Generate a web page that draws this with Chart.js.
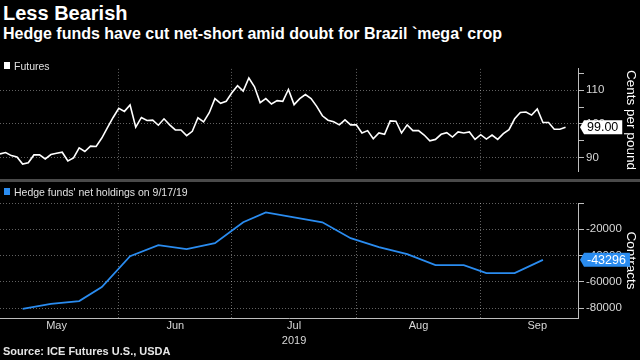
<!DOCTYPE html>
<html>
<head>
<meta charset="utf-8">
<script src="https://cdn.jsdelivr.net/npm/chart.js@4.4.0/dist/chart.umd.min.js"></script>
<style>
  body { margin: 0; width: 640px; height: 360px; background: #000; overflow: hidden; position: relative;
         font-family: "Liberation Sans", Arial, sans-serif; color: #fff; }
  .txt { position: absolute; white-space: nowrap; z-index: 2; }
  #title { left: 3px; top: 1px; font-size: 20px; font-weight: bold; line-height: 24px; }
  #subtitle { left: 3px; top: 25px; font-size: 16px; font-weight: bold; line-height: 18px; }
  .legend { font-size: 10.5px; line-height: 12px; color: #e0e0e0; padding-left: 10px; }
  .legend i { position: absolute; left: 0; top: 2px; width: 6px; height: 7px; }
  #legTop { left: 4px; top: 60px; }
  #legBottom { left: 4px; top: 186px; }
  #source { left: 3px; top: 345px; font-size: 11px; font-weight: bold; line-height: 13px; color: #e6e6e6; }
  #sep { position: absolute; left: 0; top: 179px; width: 640px; height: 3px; background: #4a4a4a; }
  canvas { position: absolute; left: 0; }
  #priceCanvas { top: 60px; }
  #holdCanvas { top: 182px; }
</style>
</head>
<body>
<div class="txt" id="title">Less Bearish</div>
<div class="txt" id="subtitle">Hedge funds have cut net-short amid doubt for Brazil `mega' crop</div>
<div class="txt legend" id="legTop"><i style="background:#fff"></i>Futures</div>
<div id="sep"></div>
<div class="txt legend" id="legBottom"><i style="background:#2a8cf0"></i>Hedge funds' net holdings on 9/17/19</div>
<div class="txt" id="source">Source: ICE Futures U.S., USDA</div>
<canvas id="priceCanvas" width="640" height="120"></canvas>
<canvas id="holdCanvas" width="640" height="178"></canvas>
<script>
// x values are trading-day numbers counted from May 1, 2019 (= 0)
const futuresStart = 1;
const futures = [
  91.1, 91.5, 90.6, 90.2, 88.1, 88.5, 90.8, 90.8, 89.6, 90.9,
  91.3, 91.6, 89.0, 89.9, 92.9, 91.8, 93.4, 93.3, 95.8, 98.9,
  101.9, 104.6, 103.7, 105.6, 99.0, 101.9, 101.0, 101.1, 99.6, 101.5,
  99.7, 98.2, 98.2, 96.5, 97.8, 101.8, 100.6, 103.3, 107.5, 106.1,
  106.7, 109.2, 111.3, 109.7, 113.6, 111.0, 106.3, 107.5, 105.9, 106.9,
  106.7, 110.2, 105.7, 107.5, 108.7, 107.5, 105.2, 102.4, 101.1, 100.6,
  99.7, 101.2, 99.7, 99.7, 97.3, 98.0, 95.6, 97.3, 96.9, 100.9,
  100.8, 97.3, 99.7, 98.0, 98.0, 96.7, 95.0, 95.4, 96.9, 97.4,
  96.1, 97.6, 97.3, 97.6, 95.4, 96.8, 95.5, 96.7, 95.4, 97.1,
  98.3, 101.5, 103.4, 103.5, 102.6, 104.4, 100.4, 100.4, 98.4, 98.4,
  99.0
];
const holdingsDays = [5, 10, 15, 19, 24, 29, 34, 39, 44, 48, 53, 58, 63, 68, 73, 78, 83, 87, 92, 97];
const holdings = [-80700, -76900, -74700, -64000, -40500, -32100, -35200, -30600, -14700, -7100,
                  -11000, -14700, -26800, -33600, -39000, -47300, -47300, -53400, -53400, -43296];

const monthNames = ['May', 'Jun', 'Jul', 'Aug', 'Sep'];
const monthStarts = [0, 22, 42, 64, 86];
const monthMids = [11, 32, 53, 75, 96];
const priceTicks = [90, 95, 100, 105, 110, 115];
const contractTicks = [0, -10000, -20000, -30000, -40000, -50000, -60000, -70000, -80000];

Chart.defaults.font.family = '"Liberation Sans", Arial, sans-serif';
Chart.defaults.color = '#d8d8d8';
Chart.defaults.animation = false;

const gridColor = 'rgba(255,255,255,0.38)';
const axisColor = '#bdbdbd';
const xMin = 1, xMax = 103.2;

// little price tag pinned to the right axis at the last value
const lastValueTag = {
  id: 'lastValueTag',
  afterDraw(chart, args, opts) {
    const ctx = chart.ctx;
    const y = chart.scales.y.getPixelForValue(opts.value);
    const x = chart.chartArea.right + 2;
    ctx.save();
    ctx.font = '12.5px "Liberation Sans", Arial, sans-serif';
    const w = ctx.measureText(opts.text).width + 7;
    ctx.fillStyle = opts.bg;
    ctx.beginPath();
    ctx.moveTo(x, y);
    ctx.lineTo(x + 4, y - 7);
    ctx.lineTo(x + 4 + w, y - 7);
    ctx.lineTo(x + 4 + w, y + 7);
    ctx.lineTo(x + 4, y + 7);
    ctx.closePath();
    ctx.fill();
    ctx.fillStyle = opts.fg;
    ctx.textBaseline = 'middle';
    ctx.fillText(opts.text, x + 7, y + 0.5);
    ctx.restore();
  }
};

const xAxis = (showLabels) => ({
  type: 'linear', min: xMin, max: xMax,
  afterBuildTicks: s => {
    s.ticks = monthStarts.concat(monthMids)
      .filter(v => v >= xMin && v <= xMax)
      .sort((a, b) => a - b)
      .map(v => ({ value: v }));
  },
  grid: {
    color: c => (c.tick && monthStarts.includes(c.tick.value)) ? gridColor : 'transparent',
    drawTicks: false
  },
  border: { display: showLabels, color: axisColor, dash: [1, 2] },
  ticks: {
    display: showLabels, autoSkip: false, maxRotation: 0, padding: 0,
    font: { size: 11, lineHeight: 1.4 },
    callback: v => {
      const i = monthMids.indexOf(v);
      if (i < 0) return '';
      return monthNames[i] === 'Jul' ? ['Jul', '2019'] : monthNames[i];
    }
  },
  afterFit: s => { s.height = showLabels ? 42 : 0; }
});

const yAxis = (min, max, ticks, major, title, labelOk) => ({
  position: 'right', min: min, max: max,
  afterBuildTicks: s => { s.ticks = ticks.map(v => ({ value: v })); },
  grid: {
    color: c => (c.tick && c.tick.value % major === 0) ? gridColor : 'transparent',
    tickColor: axisColor, tickLength: 6, tickBorderDash: []
  },
  border: { color: axisColor, dash: [1, 2] },
  ticks: { padding: 2, font: { size: 11.5 }, callback: v => labelOk(v) ? String(v) : '' },
  title: { display: true, text: title, color: '#fff', font: { size: 13.5 }, padding: { top: 1, bottom: 0 } },
  afterFit: s => { s.width = 62; }
});

new Chart(document.getElementById('priceCanvas'), {
  type: 'line',
  data: {
    datasets: [{
      data: futures.map((v, i) => ({ x: futuresStart + i, y: v })),
      borderColor: '#ffffff', borderWidth: 1.6, pointRadius: 0, tension: 0
    }]
  },
  options: {
    responsive: false,
    layout: { padding: { top: 3, bottom: 2, left: 0, right: 0 } },
    scales: {
      x: xAxis(false),
      y: yAxis(86, 116.3, priceTicks, 10, 'Cents per pound', v => v % 10 === 0)
    },
    plugins: {
      legend: { display: false }, tooltip: { enabled: false },
      lastValueTag: { value: futures[futures.length - 1], text: futures[futures.length - 1].toFixed(2), bg: '#ffffff', fg: '#000000' }
    }
  },
  plugins: [lastValueTag]
});

new Chart(document.getElementById('holdCanvas'), {
  type: 'line',
  data: {
    datasets: [{
      data: holdings.map((v, i) => ({ x: holdingsDays[i], y: v })),
      borderColor: '#2a8cf0', borderWidth: 1.8, pointRadius: 0, tension: 0
    }]
  },
  options: {
    responsive: false,
    layout: { padding: { top: 21, bottom: 0, left: 0, right: 0 } },
    scales: {
      x: xAxis(true),
      y: yAxis(-87600, 0, contractTicks, 20000, 'Contracts', v => v % 20000 === 0 && v !== 0)
    },
    plugins: {
      legend: { display: false }, tooltip: { enabled: false },
      lastValueTag: { value: holdings[holdings.length - 1], text: String(holdings[holdings.length - 1]), bg: '#2a8cf0', fg: '#ffffff' }
    }
  },
  plugins: [lastValueTag]
});
</script>
</body>
</html>
